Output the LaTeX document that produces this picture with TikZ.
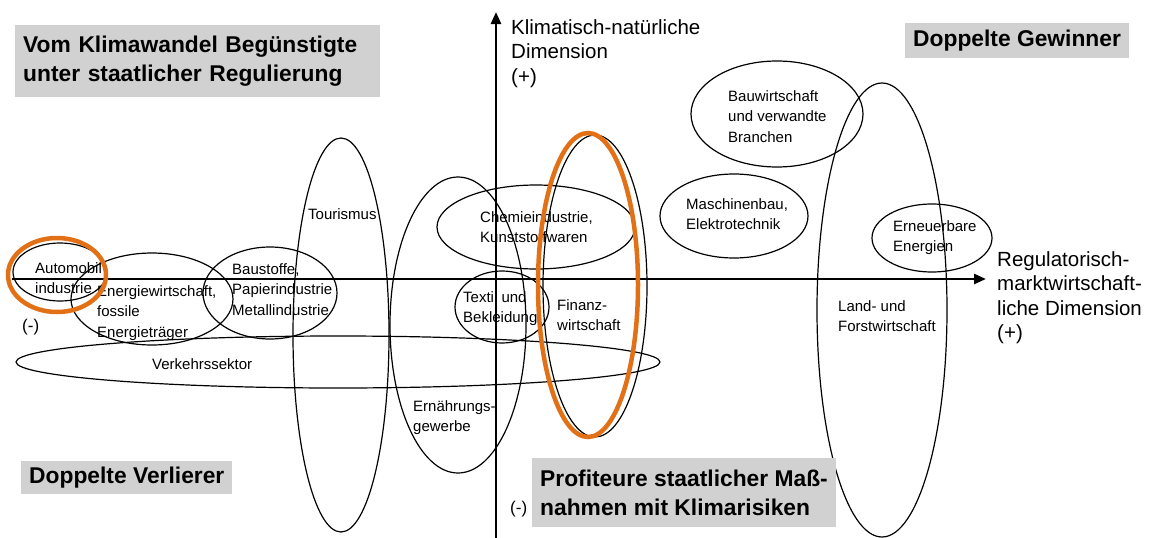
\documentclass[tikz,border=0pt]{standalone}
\usepackage{fontspec}
\setmainfont{Liberation Sans}
\usepackage{xcolor}
\usetikzlibrary{math,shapes.geometric,arrows.meta}
\definecolor{boxgray}{gray}{0.82}
\definecolor{marker}{RGB}{226,112,22}
\tikzset{
	sector/.style={draw,ellipse,line width=1.2pt,inner sep=0pt},
	ring/.style={draw=marker,ellipse,line width=4.5pt,inner sep=0pt},
	lbl/.style={anchor=north west,inner sep=0pt,align=left,font=\fontsize{15}{20.5}\selectfont},
	dimlbl/.style={anchor=north west,inner sep=0pt,align=left,font=\fontsize{20.5}{24.5}\selectfont},
	quadrant/.style={anchor=north west,fill=boxgray,align=left,inner xsep=8pt,inner ysep=0pt,font=\bfseries\fontsize{22.8}{29}\selectfont},
	axis/.style={line width=2.6pt,-{Triangle[length=12pt,width=10pt]}}
}
\begin{document}
\begin{tikzpicture}[x=1pt,y=-1pt]
\path[fill=white,use as bounding box] (0,0) rectangle (1149,538);
\tikzmath{
	\ox = 496;\oy = 279;
	\xl = 12;\xr = 986;\yt = 12;\yb = 538;
	{\coordinate (o) at (\ox,\oy);};
	{\coordinate (xl) at (\xl,\oy);};
	{\coordinate (xr) at (\xr,\oy);};
	{\coordinate (yb) at (\ox,\yb);};
	{\coordinate (yt) at (\ox,\yt);};
};
% sectors
\node[sector,minimum width=94,minimum height=58] (aut) at (60,272) {};
\node[sector,minimum width=162,minimum height=92] (ener) at (152,299) {};
\node[sector,minimum width=134,minimum height=92] (baus) at (270,293) {};
\node[sector,minimum width=644,minimum height=52] (verk) at (338,362) {};
\node[sector,minimum width=96,minimum height=394] (tour) at (341,335) {};
\node[sector,minimum width=136,minimum height=296] (ernae) at (458,325) {};
\node[sector,minimum width=198,minimum height=84] (chem) at (536,227) {};
\node[sector,minimum width=94,minimum height=72] (text) at (502,307) {};
\node[sector,minimum width=104,minimum height=302] (fin) at (595,286) {};
\node[sector,minimum width=148,minimum height=84] (masch) at (734,216) {};
\node[sector,minimum width=172,minimum height=106] (bauw) at (777,114) {};
\node[sector,minimum width=130,minimum height=454] (land) at (882,310) {};
\node[sector,minimum width=120,minimum height=68] (ern) at (932,238) {};
%
\node[lbl] (aut-l) at (35,262) {Automobil\\industrie};
\node[lbl] (ener-l) at (97,285) {Energiewirtschaft,\\fossile\\Energieträger};
\node[lbl] (baus-l) at (232,263) {Baustoffe,\\Papierindustrie\\Metallindustrie};
\node[lbl] (verk-l) at (152,358) {Verkehrssektor};
\node[lbl] (tour-l) at (308,208) {Tourismus};
\node[lbl] (ernae-l) at (413,400) {Ernährungs-\\gewerbe};
\node[lbl] (chem-l) at (480,211) {Chemieindustrie,\\Kunststoffwaren};
\node[lbl] (text-l) at (463,291) {Textil und\\Bekleidung};
\node[lbl] (fin-l) at (557,299) {Finanz-\\wirtschaft};
\node[lbl] (masch-l) at (686,198) {Maschinenbau,\\Elektrotechnik};
\node[lbl] (bauw-l) at (728,90) {Bauwirtschaft\\und verwandte\\Branchen};
\node[lbl] (land-l) at (838,300) {Land- und\\Forstwirtschaft};
\node[lbl] (ern-l) at (893,220) {Erneuerbare\\Energien};
% axes
\draw[axis] (xl) -- (xr);
\draw[axis] (yb) -- (yt);
\node[dimlbl] (ydim) at (511,19) {Klimatisch-natürliche\\Dimension\\(+)};
\node[dimlbl] (xdim) at (997,251) {Regulatorisch-\\marktwirtschaft-\\liche Dimension\\(+)};
\node[dimlbl,font=\fontsize{17}{20}\selectfont] (xneg) at (22,319) {(-)};
\node[dimlbl,font=\fontsize{17}{20}\selectfont] (yneg) at (510,501) {(-)};
% quadrants
\node[quadrant,text width=349,minimum height=72] (q2) at (15,25) {Vom Klimawandel Begünstigte\\unter staatlicher Regulierung};
\node[quadrant,minimum height=35] (q1) at (905,23) {Doppelte Gewinner};
\node[quadrant,minimum height=33] (q3) at (21,461) {Doppelte Verlierer};
\node[quadrant,minimum height=69] (q4) at (532,458) {Profiteure staatlicher Maß-\\nahmen mit Klimarisiken};
% highlights
\node[ring,minimum width=98,minimum height=74] (aut-r) at (57,275) {};
\node[ring,minimum width=100,minimum height=304] (fin-r) at (588,285) {};
\end{tikzpicture}
\end{document}
